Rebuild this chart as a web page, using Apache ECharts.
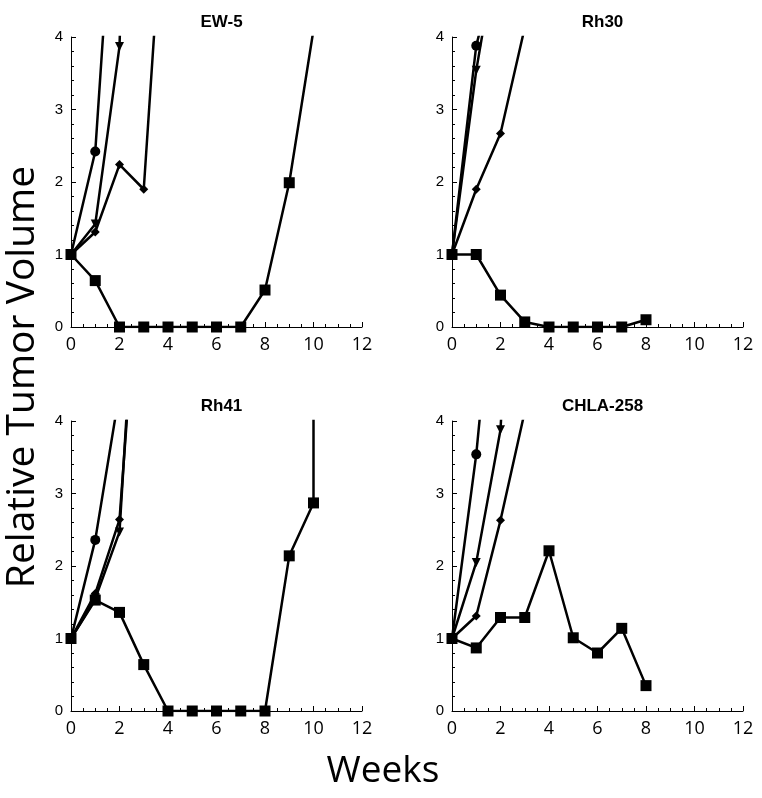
<!DOCTYPE html>
<html><head><meta charset="utf-8">
<script src="https://cdn.jsdelivr.net/npm/echarts@6/dist/echarts.min.js"></script>
<style>html,body{margin:0;padding:0;background:#fff}#c{width:762px;height:798px}</style>
</head><body><div id="c"></div><script>
// Panel titles
const panelTitles = ['EW-5', 'Rh30', 'Rh41', 'CHLA-258'];
// Axis ranges / ticks
const xMin = 0, xMax = 12, xStep = 2;
const yMin = 0, yMax = 4, yStep = 1;
// Axis titles
const yTitle = 'Relative Tumor Volume';
const xTitle = 'Weeks';

// Series per panel: [week, relative volume]
const circleData = [
  [[0,1],[1,2.42],[2,7.4]],
  [[0,1],[1,3.88],[2,5.2]],
  [[0,1],[1,2.36],[2,4.4]],
  [[0,1],[1,3.54],[2,7.0]]
];
const triangleData = [
  [[0,1],[1,1.42],[2,3.87],[3,15]],
  [[0,1],[1,3.54],[2,5.5]],
  [[0,1],[1,1.55],[2,2.47],[3,8]],
  [[0,1],[1,2.05],[2,3.88],[3,10]]
];
const diamondData = [
  [[0,1],[1,1.31],[2,2.24],[3,1.9],[4,6.9]],
  [[0,1],[1,1.9],[2,2.67],[3,4.13]],
  [[0,1],[1,1.62],[2,2.64],[3,7.2]],
  [[0,1],[1,1.31],[2,2.63],[3,4.13]]
];
const squareData = [
  [[0,1],[1,0.64],[2,0],[3,0],[4,0],[5,0],[6,0],[7,0],[8,0.51],[9,1.99],[10,4.1]],
  [[0,1],[1,1.0],[2,0.44],[3,0.07],[4,0],[5,0],[6,0],[7,0],[8,0.1]],
  [[0,1],[1,1.53],[2,1.36],[3,0.64],[4,0],[5,0],[6,0],[7,0],[8,0],[9,2.14],[10,2.87],[10,6]],
  [[0,1],[1,0.87],[2,1.29],[3,1.29],[4,2.21],[5,1.01],[6,0.8],[7,1.14],[8,0.35]]
];

const gridPos = [
  {left: 71, top: 37}, {left: 452, top: 37},
  {left: 71, top: 421}, {left: 452, top: 421}
];
const GW = 291, GH = 290;

const grids = [], xAxes = [], yAxes = [], series = [], titles = [];
gridPos.forEach((g, i) => {
  grids.push({left: g.left, top: g.top, width: GW, height: GH, containLabel: false});
  titles.push({
    text: panelTitles[i], left: g.left + GW / 2, top: g.top - 28, textAlign: 'center',
    textStyle: {fontFamily: 'Liberation Sans', fontWeight: 'bold', fontSize: 17, color: '#000'}
  });
  xAxes.push({
    type: 'value', gridIndex: i, min: xMin, max: xMax, interval: xStep,
    axisLine: {show: true, onZero: false, lineStyle: {color: '#000', width: 1}},
    axisTick: {show: true, inside: true, length: 5, lineStyle: {color: '#000'}},
    minorTick: {show: true, splitNumber: 4, length: 3, lineStyle: {color: '#000'}},
    splitLine: {show: false},
    axisLabel: {fontFamily: 'Open Sans', fontSize: 18, color: '#000', margin: 9}
  });
  yAxes.push({
    type: 'value', gridIndex: i, min: yMin, max: yMax, interval: yStep,
    axisLine: {show: true, onZero: false, lineStyle: {color: '#000', width: 1}},
    axisTick: {show: true, inside: true, length: 5, lineStyle: {color: '#000'}},
    minorTick: {show: true, splitNumber: 5, length: 3, lineStyle: {color: '#000'}},
    splitLine: {show: false},
    axisLabel: {fontFamily: 'Liberation Sans', fontSize: 15, color: '#000', margin: 8}
  });
  const common = {
    type: 'line', xAxisIndex: i, yAxisIndex: i, clip: true, animation: false,
    lineStyle: {color: '#000', width: 2.5}, itemStyle: {color: '#000'},
    showSymbol: true, showAllSymbol: true
  };
  series.push(Object.assign({}, common, {data: circleData[i], symbol: 'circle', symbolSize: 10}));
  series.push(Object.assign({}, common, {data: triangleData[i], symbol: 'triangle', symbolSize: 9, symbolRotate: 180}));
  series.push(Object.assign({}, common, {data: diamondData[i], symbol: 'diamond', symbolSize: 9}));
  series.push(Object.assign({}, common, {data: squareData[i], symbol: 'rect', symbolSize: 11}));
});

const chart = echarts.init(document.getElementById('c'), null, {renderer: 'canvas'});
chart.setOption({
  backgroundColor: '#fff',
  animation: false,
  title: titles,
  grid: grids,
  xAxis: xAxes,
  yAxis: yAxes,
  series: series,
  graphic: [
    {type: 'text', x: 23, y: 377, rotation: Math.PI / 2,
     style: {text: yTitle, font: '39px "Open Sans"', fill: '#000', textAlign: 'center', textVerticalAlign: 'middle'}},
    {type: 'text', x: 383, y: 771,
     style: {text: xTitle, font: '37px "Open Sans"', fill: '#000', textAlign: 'center', textVerticalAlign: 'middle'}}
  ]
});
</script></body></html>
